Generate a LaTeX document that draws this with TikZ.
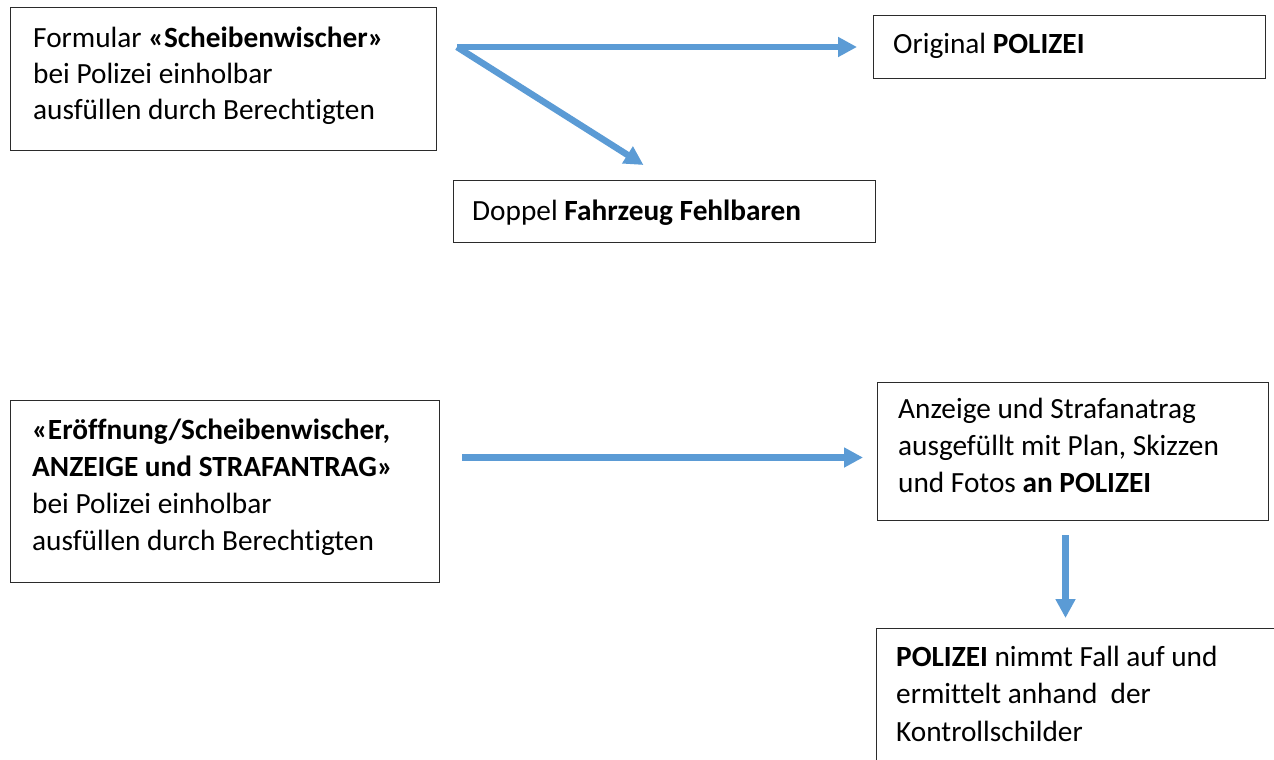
\documentclass[tikz,border=0pt]{standalone}
\usepackage{fontspec}
\setmainfont{Carlito}[Ligatures=NoCommon]
\usetikzlibrary{arrows.meta}
\definecolor{arrblue}{HTML}{5B9BD5}
\definecolor{boxline}{HTML}{2B2B2B}
\begin{document}
\begin{tikzpicture}[x=1pt,y=-1pt,
  box/.style={draw=boxline,line width=1pt,rectangle,inner sep=0pt,anchor=north west},
  txt/.style={inner sep=0pt,anchor=base west,font=\fontsize{29.3}{37}\selectfont},
  arr/.style={draw=arrblue,line width=6.5pt,-{Triangle[length=19pt,width=19pt]}}]
\useasboundingbox (0,0) rectangle (1274,760);
\clip (0,0) rectangle (1274,760);
% boxes
\node[box,minimum width=426pt,minimum height=143pt] (b1) at (10,7) {};
\node[box,minimum width=392pt,minimum height=63pt] (b2) at (873,15) {};
\node[box,minimum width=422pt,minimum height=62pt] (b3) at (453,180) {};
\node[box,minimum width=429pt,minimum height=182pt] (b4) at (10,400) {};
\node[box,minimum width=391pt,minimum height=138pt] (b5) at (877,382) {};
\node[box,minimum width=420pt,minimum height=160pt] (b6) at (876,628) {};
% texts
\node[txt,font=\fontsize{29.3}{36}\selectfont] (t1) at (33,48) {\begin{tabular}[t]{@{}l@{}}Formular \textbf{«Scheibenwischer»}\\bei Polizei einholbar\\ausfüllen durch Berechtigten\end{tabular}};
\node[txt] (t2) at (893,54) {Original \textbf{POLIZEI}};
\node[txt] (t3) at (472,220) {Doppel \textbf{Fahrzeug Fehlbaren}};
\node[txt] (t4) at (32,439) {\begin{tabular}[t]{@{}l@{}}\textbf{«Eröffnung/Scheibenwischer,}\\\textbf{ANZEIGE und STRAFANTRAG»}\\bei Polizei einholbar\\ausfüllen durch Berechtigten\end{tabular}};
\node[txt] (t5) at (898,418) {\begin{tabular}[t]{@{}l@{}}Anzeige und Strafanatrag\\ausgefüllt mit Plan, Skizzen\\und Fotos \textbf{an POLIZEI}\end{tabular}};
\node[txt,font=\fontsize{29.3}{37.5}\selectfont] (t6) at (896,666) {\begin{tabular}[t]{@{}l@{}}\textbf{POLIZEI} nimmt Fall auf und\\ermittelt anhand\ \ der\\Kontrollschilder\end{tabular}};
% arrows
\draw[arr] ([shift={(20,40)}]b1.north east) -- ([xshift=-16pt]b2.west);
\draw[arr] ([shift={(20,40)}]b1.north east) -- ([shift={(-21,-15)}]b3.north);
\draw[arr] ([shift={(22,-34)}]b4.east) -- ([shift={(-14,6)}]b5.west);
\path (b5.south) ++(-7.5,14) coordinate (a4s);
\path (a4s |- b6.north) ++(0,-10) coordinate (a4e);
\draw[arr] (a4s) -- (a4e);
\end{tikzpicture}
\end{document}
